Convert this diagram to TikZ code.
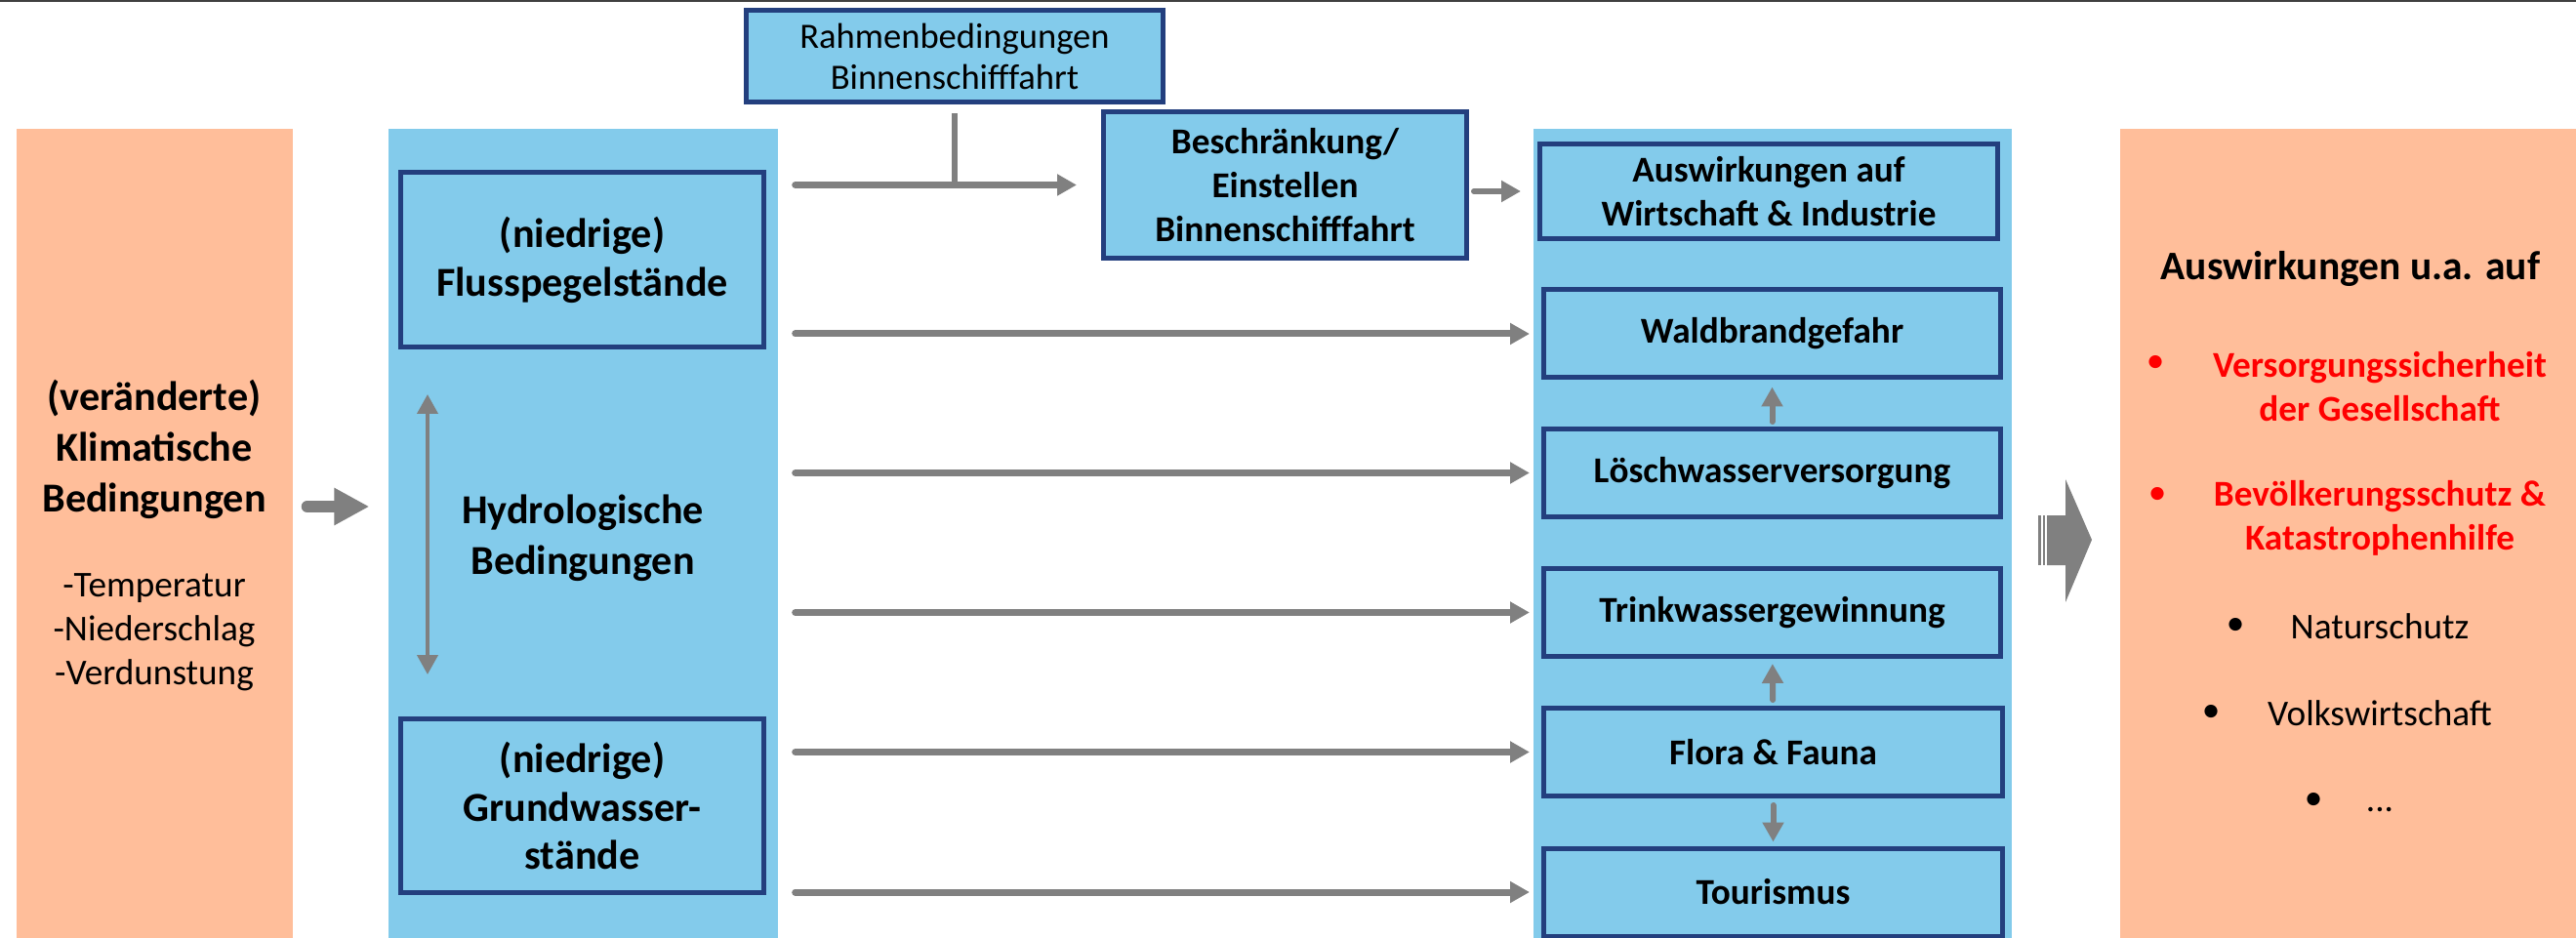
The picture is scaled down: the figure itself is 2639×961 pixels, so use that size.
\documentclass[tikz,border=0pt]{standalone}
\usepackage{fontspec}
\setmainfont{Carlito}
\usetikzlibrary{arrows.meta}
\definecolor{lightblue}{HTML}{83CBEB}
\definecolor{peach}{HTML}{FFBE9A}
\definecolor{boxblue}{HTML}{233F7E}
\definecolor{arrowgray}{HTML}{808080}
\definecolor{topline}{HTML}{404040}

\begin{document}
\begin{tikzpicture}[x=0.1mm,y=-0.1mm,
  column/.style={inner sep=0, minimum height=82.9mm},
  box/.style={draw=boxblue, line width=0.5mm, fill=lightblue, inner sep=0, align=center},
  flow/.style={draw=arrowgray, line width=0.7mm, line cap=round, -{Triangle[length=2mm,width=2.1mm]}},
  headtext/.style={align=center, font=\fontsize{12}{14.8}\selectfont\bfseries},
  boldtext/.style={align=center, font=\fontsize{10.6}{12.8}\selectfont\bfseries},
  bodytext/.style={align=center, font=\fontsize{10.6}{12.8}\selectfont},
  bulletred/.style={text=red, font=\fontsize{10.6}{12.8}\selectfont},
  bulletblack/.style={font=\fontsize{10.6}{12.8}\selectfont}]
\useasboundingbox (0,0) rectangle (2639,961);
\fill[topline] (0,0) rectangle (2639,2.5);

% columns
\node[column, fill=peach, minimum width=28.3mm] (clima) at (158.5,546.5) {};
\node[column, fill=lightblue, minimum width=39.9mm] (hydro) at (597.5,546.5) {};
\node[column, fill=lightblue, minimum width=49mm] (impact) at (1816,546.5) {};
\node[column, fill=peach, minimum width=46.7mm] (folgen) at (2405.5,546.5) {};

% left column
\node[headtext] (climhead) at (158,460) {(veränderte)\\Klimatische\\Bedingungen};
\node[bodytext] (climlist) at (158,648) {-Temperatur\\-Niederschlag\\-Verdunstung};

% hydrology
\node[box, minimum width=37.2mm, minimum height=17.9mm, font=\fontsize{12}{14.2}\selectfont\bfseries] (fluss) at (596.5,266) {(niedrige)\\Flusspegelstände};
\node[headtext] (hydtext) at (597,551) {Hydrologische\\Bedingungen};
\node[box, minimum width=37.2mm, minimum height=17.8mm, font=\fontsize{12}{14.2}\selectfont\bfseries] (grund) at (596.5,825.5) {(niedrige)\\Grundwasser-\\stände};

% shipping
\node[box, minimum width=42.7mm, minimum height=9.4mm, font=\fontsize{10.4}{11.95}\selectfont] (rahmen) at (978,57.5) {Rahmenbedingungen\\Binnenschifffahrt};
\node[box, minimum width=37.2mm, minimum height=15mm, font=\fontsize{10.6}{12.8}\selectfont\bfseries] (besch) at (1316.5,189.5) {Beschränkung/\\Einstellen\\Binnenschifffahrt};

% impacts
\node[box, minimum width=46.9mm, minimum height=9.7mm, font=\fontsize{10.6}{12.8}\selectfont\bfseries] (wirt) at (1812,196) {Auswirkungen auf\\Wirtschaft \& Industrie};
\node[box, minimum width=46.8mm, minimum height=9mm, font=\fontsize{10.6}{12.8}\selectfont\bfseries] (wald) at (1815.5,342) {Waldbrandgefahr};
\node[box, minimum width=46.8mm, minimum height=9mm, font=\fontsize{10.6}{12.8}\selectfont\bfseries] (losch) at (1815.5,484.5) {Löschwasserversorgung};
\node[box, minimum width=46.8mm, minimum height=9mm, font=\fontsize{10.6}{12.8}\selectfont\bfseries] (trink) at (1815.5,627.5) {Trinkwassergewinnung};
\node[box, minimum width=47mm, minimum height=9mm, font=\fontsize{10.6}{12.8}\selectfont\bfseries] (flora) at (1816.5,770.5) {Flora \& Fauna};
\node[box, minimum width=47mm, minimum height=9mm, font=\fontsize{10.6}{12.8}\selectfont\bfseries] (tour) at (1816.5,914) {Tourismus};

% consequences
\node[headtext, font=\fontsize{11.8}{14.5}\selectfont\bfseries] (folghead) at (2408,275) {Auswirkungen u.a. auf};
\node[boldtext, text=red] (versorg) at (2438,396) {Versorgungssicherheit\\der Gesellschaft};
\node[boldtext, text=red] (bevoelk) at (2438,531) {Bevölkerungsschutz \&\\Katastrophenhilfe};
\node[bodytext] (natur) at (2438,642) {Naturschutz};
\node[bodytext] (volks) at (2438,731) {Volkswirtschaft};
\node[bodytext] (etc) at (2438,830) {...};
\node[bulletred] (b1) at (2208,373) {•};
\node[bulletred] (b2) at (2210,508) {•};
\node[bulletblack] (b3) at (2290,642) {•};
\node[bulletblack] (b4) at (2265,731) {•};
\node[bulletblack] (b5) at (2370,821) {•};

% arrows
\draw[arrowgray, line width=1.2mm, line cap=round, -{Triangle[length=3.6mm,width=3.6mm]}] ([xshift=1.4mm,yshift=2.75mm]clima.east) -- ([xshift=-1.9mm,yshift=2.75mm]hydro.west);
\draw[arrowgray, line width=0.4mm, {Triangle[length=2mm,width=2.1mm]}-{Triangle[length=2mm,width=2.1mm]}] ([xshift=3mm,yshift=-4.6mm]fluss.south west) -- ([xshift=3mm,yshift=4.3mm]grund.north west);
\draw[flow] ([xshift=1.7mm]hydro.east |- besch.west) -- ([xshift=-2.5mm]besch.west);
\draw[arrowgray, line width=0.6mm] ([yshift=-0.9mm]rahmen.south) -- (rahmen.south |- besch.west);
\draw[flow, line width=0.6mm] ([xshift=0.5mm]besch.east |- wirt.west) -- ([xshift=-1.7mm]wirt.west);
\foreach \target in {wald,losch,trink,flora,tour}
  \draw[flow] ([xshift=1.7mm]hydro.east |- \target.west) -- ([xshift=-1.2mm]\target.west);
\draw[flow, line width=0.6mm, shorten <=0.5mm, shorten >=0.7mm] (losch) -- (wald);
\draw[flow, line width=0.6mm, shorten <=0.6mm, shorten >=0.5mm] (flora) -- (trink);
\draw[flow, line width=0.6mm, shorten <=0.7mm, shorten >=0.4mm] (flora) -- (tour);

% striped arrow
\fill[arrowgray] (2097,528) -- (2116,528) -- (2116,491) -- (2143,553) -- (2116,617) -- (2116,579) -- (2097,579) -- cycle;
\fill[arrowgray] (2088,528) rectangle (2091,579);
\fill[arrowgray] (2092.5,528) rectangle (2095,579);
\end{tikzpicture}
\end{document}
